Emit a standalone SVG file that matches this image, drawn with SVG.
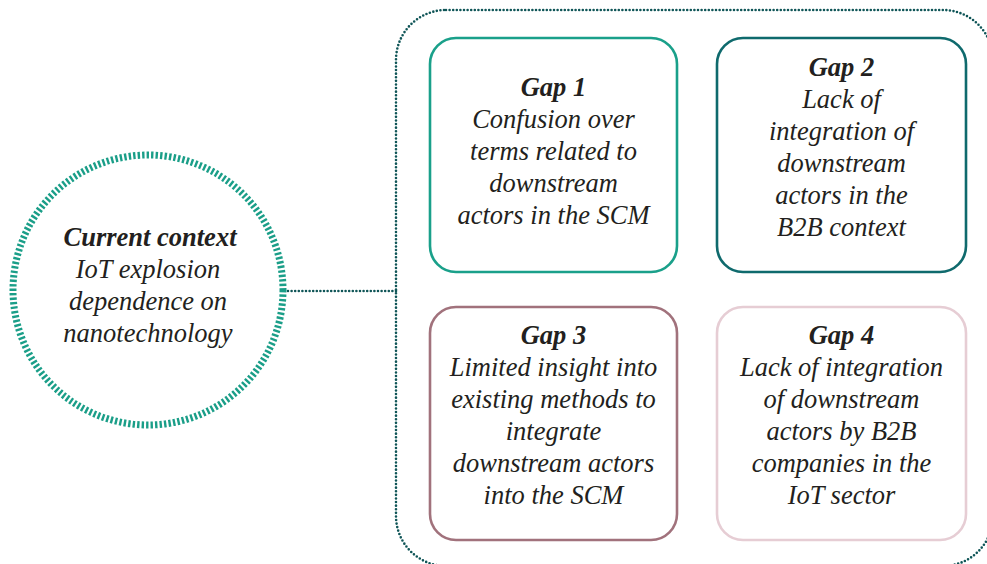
<svg xmlns="http://www.w3.org/2000/svg" width="987" height="564" viewBox="0 0 987 564">
<style>
.t{font-family:"Liberation Serif","Times New Roman",serif;font-style:italic;font-size:26.5px;fill:#231f20;text-anchor:middle}
.b{font-weight:bold}
.box{fill:#ffffff;stroke-width:2.6}
.dot{fill:none;stroke:#0f5557;stroke-width:2.6;stroke-dasharray:0 3.6;stroke-linecap:round}
</style>
<rect width="987" height="564" fill="#ffffff"/>
<g id="connectors">
<rect class="dot" x="396" y="10" width="597" height="556" rx="50"/>
<line class="dot" x1="288" y1="291" x2="396" y2="291"/>
</g>
<g id="context">
<circle cx="148" cy="290" r="135" fill="#ffffff" stroke="#1a9e88" stroke-width="7" stroke-dasharray="2.4 2.1"/>
<text class="t"><tspan class="b" x="150" y="246">Current context</tspan><tspan x="148" y="278">IoT explosion</tspan><tspan x="148" y="310">dependence on</tspan><tspan x="148" y="342">nanotechnology</tspan></text>
</g>
<g id="gap1">
<rect class="box" x="430" y="38" width="247" height="234" rx="26" stroke="#1aa08a"/>
<text class="t"><tspan class="b" x="553.5" y="96">Gap 1</tspan><tspan x="553.5" y="128">Confusion over</tspan><tspan x="553.5" y="160">terms related to</tspan><tspan x="553.5" y="192">downstream</tspan><tspan x="553.5" y="224">actors in the SCM</tspan></text>
</g>
<g id="gap2">
<rect class="box" x="717" y="38" width="249" height="234" rx="26" stroke="#0f6a6d"/>
<text class="t"><tspan class="b" x="841.5" y="76">Gap 2</tspan><tspan x="841.5" y="108">Lack of</tspan><tspan x="841.5" y="140">integration of</tspan><tspan x="841.5" y="172">downstream</tspan><tspan x="841.5" y="204">actors in the</tspan><tspan x="841.5" y="236">B2B context</tspan></text>
</g>
<g id="gap3">
<rect class="box" x="430" y="307" width="247" height="233" rx="26" stroke="#a1727c"/>
<text class="t"><tspan class="b" x="553.5" y="344">Gap 3</tspan><tspan x="553.5" y="376">Limited insight into</tspan><tspan x="553.5" y="408">existing methods to</tspan><tspan x="553.5" y="440">integrate</tspan><tspan x="553.5" y="472">downstream actors</tspan><tspan x="553.5" y="504">into the SCM</tspan></text>
</g>
<g id="gap4">
<rect class="box" x="717" y="307" width="249" height="233" rx="26" stroke="#e6cdd4"/>
<text class="t"><tspan class="b" x="841.5" y="344">Gap 4</tspan><tspan x="841.5" y="376">Lack of integration</tspan><tspan x="841.5" y="408">of downstream</tspan><tspan x="841.5" y="440">actors by B2B</tspan><tspan x="841.5" y="472">companies in the</tspan><tspan x="841.5" y="504">IoT sector</tspan></text>
</g>
</svg>
